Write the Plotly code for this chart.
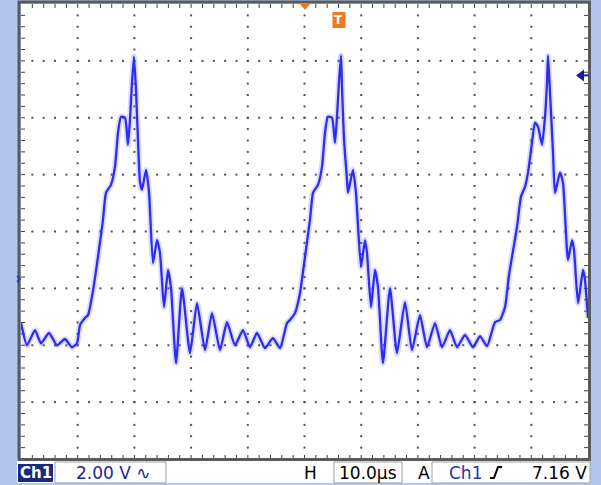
import plotly.graph_objects as go

# ---------------- data ----------------
t_us = [0.0, 1.06, 2.47, 3.53, 4.94, 6.35, 7.76, 8.99, 9.88,
        10.41, 11.29, 11.82, 12.70, 13.58, 14.46, 14.99, 15.87, 16.58, 17.11,
        17.64, 18.34, 18.87, 19.22, 19.58, 19.93, 20.28, 20.63, 20.99, 21.34,
        22.05, 22.57, 23.28, 23.99, 24.51, 25.22, 25.93, 26.46, 27.34, 28.40,
        29.81, 31.04, 32.45, 33.69, 35.10, 36.33, 37.74, 39.15, 40.39, 41.62,
        43.03, 44.44, 45.68,
        46.91, 47.44, 48.32, 49.21, 50.09, 50.97, 51.50, 52.38, 53.09, 53.62,
        54.14, 54.85, 55.38, 55.73, 56.08, 56.44, 56.61, 56.97, 57.50, 57.67,
        58.55, 59.08, 59.96, 60.67, 61.02, 61.73, 62.43, 62.96, 63.84, 65.08,
        66.31, 67.72, 68.96, 70.37, 71.60, 73.02, 74.25, 75.66, 76.90, 78.31,
        79.72, 80.95, 82.19,
        83.60, 84.48, 85.36, 86.07, 86.60, 87.48, 88.18, 88.89, 89.42, 90.12,
        90.65, 91.18, 91.89, 92.42, 92.77, 92.95, 93.30, 93.83, 94.18, 95.06,
        95.59, 96.47, 97.18, 97.53, 98.24, 99.12, 99.47, 100.0]
volts = [-1.55, -2.33, -1.80, -2.26, -1.90, -2.33, -2.11, -2.40, -2.26,
         -1.62, -1.37, -1.27, -0.42, 0.78, 2.08, 3.03, 3.31, 3.95, 5.15,
         5.71, 5.67, 4.72, 5.60, 6.91, 7.82, 6.66, 4.90, 3.42, 3.14,
         3.84, 3.07, 0.56, 1.37, 0.92, -0.99, 0.32, -0.32, -2.96, -0.32,
         -2.61, -0.85, -2.50, -1.20, -2.50, -1.52, -2.33, -1.80, -2.40, -1.90,
         -2.43, -2.08, -2.43,
         -1.55, -1.44, -1.20, -0.49, 0.78, 2.08, 3.03, 3.31, 3.95, 5.15,
         5.71, 5.67, 4.79, 5.71, 6.91, 7.86, 6.77, 4.90, 3.49, 3.03,
         3.84, 3.03, 0.42, 1.37, 0.92, -0.99, 0.32, -0.28, -2.96, -0.32,
         -2.61, -0.81, -2.50, -1.27, -2.40, -1.55, -2.40, -1.80, -2.40, -1.97,
         -2.40, -2.01, -2.36,
         -1.52, -1.44, -0.99, 0.14, 0.78, 1.83, 2.89, 3.24, 3.74, 4.79,
         5.50, 5.36, 4.72, 5.71, 6.91, 7.86, 6.55, 4.44, 3.03, 3.74,
         3.38, 0.67, 1.37, 1.02, -0.85, 0.32, -0.04, -1.37]

volts_per_div = 2.0
us_per_div = 10.0
trigger_level_v = 7.16
trigger_time_us = 56.08
ch_label = "Ch1"
scale_label = "2.00 V \u223f"
time_label = "10.0\u00b5s"
trig_label = "7.16 V"

# ---------------- screen geometry ----------------
W, H = 601, 485
L, R, T, B = 21, 588, 4, 459          # plot area in pixels
X0, X1 = 0.0, 10 * us_per_div
Y0 = -6.33
Y1 = Y0 + 8 * volts_per_div


def px(x):
    return (x - L) / (R - L)


def py(y):
    return (B - y) / (B - T)


fig = go.Figure()

# dotted graticule
gx, gy = [], []
for k in range(1, 10):
    x = X0 + k * us_per_div
    for j in range(1, 40):
        gx.append(x)
        gy.append(Y0 + j * volts_per_div / 5)
for k in range(1, 8):
    y = Y0 + k * volts_per_div
    for j in range(1, 50):
        gx.append(X0 + j * us_per_div / 5)
        gy.append(y)
fig.add_trace(go.Scatter(x=gx, y=gy, mode="markers", hoverinfo="skip",
                         marker=dict(size=2, color="#505050", symbol="square",
                                     line_width=0)))

# frame ticks
tx, ty = [], []
dx = 4 / (R - L) * (X1 - X0)
dy = 4 / (B - T) * (Y1 - Y0)
for j in range(1, 50):
    x = X0 + j * us_per_div / 5
    tx += [x, x, None, x, x, None]
    ty += [Y1, Y1 - dy, None, Y0, Y0 + dy, None]
for j in range(1, 40):
    y = Y0 + j * volts_per_div / 5
    tx += [X0, X0 + dx, None, X1, X1 - dx, None]
    ty += [y, y, None, y, y, None]
fig.add_trace(go.Scatter(x=tx, y=ty, mode="lines", hoverinfo="skip",
                         line=dict(color="#404040", width=1)))

# waveform: glow + core
fig.add_trace(go.Scatter(x=t_us, y=volts, mode="lines", hoverinfo="skip",
                         line=dict(color="rgba(90,90,255,0.22)", width=6,
                                   shape="spline", smoothing=0.5)))
fig.add_trace(go.Scatter(x=t_us, y=volts, mode="lines", hoverinfo="skip",
                         line=dict(color="rgb(45,45,235)", width=2.3,
                                   shape="spline", smoothing=0.5)))

shapes = []
# status bar background
shapes.append(dict(type="rect", xref="paper", yref="paper", layer="below",
                   x0=px(17), x1=px(590), y0=py(459), y1=py(483),
                   fillcolor="white", line_width=0))
# frame
shapes.append(dict(type="rect", xref="paper", yref="paper",
                   x0=px(19), x1=px(589.5), y0=py(459.5), y1=py(2),
                   line=dict(color="#5a5a5a", width=3), fillcolor="rgba(0,0,0,0)"))
# Ch1 label box
shapes.append(dict(type="rect", xref="paper", yref="paper",
                   x0=px(18), x1=px(53), y0=py(464), y1=py(482),
                   fillcolor="#1b2a80", line_width=0))
for a, b in [(55, 166), (334, 402), (432, 590)]:
    shapes.append(dict(type="rect", xref="paper", yref="paper",
                       x0=px(a), x1=px(b), y0=py(462), y1=py(483),
                       fillcolor="white", line=dict(color="#a0a0a0", width=1)))
# rising edge symbol
shapes.append(dict(type="path", xref="paper", yref="paper",
                   path=f"M {px(490)} {py(478)} L {px(494)} {py(478)} L {px(498)} {py(467)} L {px(502)} {py(467)}",
                   line=dict(color="black", width=2)))
# trigger position marker (orange triangle at top)
xt = L + (trigger_time_us - X0) / (X1 - X0) * (R - L)
shapes.append(dict(type="path", xref="paper", yref="paper",
                   path=f"M {px(299)} {py(3)} L {px(311)} {py(3)} L {px(305)} {py(10)} Z",
                   fillcolor="#f07820", line_width=0))
# T box
shapes.append(dict(type="rect", xref="paper", yref="paper",
                   x0=px(xt - 6.5), x1=px(xt + 6.5), y0=py(28), y1=py(12),
                   fillcolor="#f07820", line_width=0))
# trigger level arrow (right)
yl = B - (trigger_level_v - Y0) / (Y1 - Y0) * (B - T)
shapes.append(dict(type="path", xref="paper", yref="paper",
                   path=f"M {px(576)} {py(yl)} L {px(584)} {py(yl - 6)} L {px(584)} {py(yl + 6)} Z",
                   fillcolor="#1a1aa0", line_width=0))
shapes.append(dict(type="line", xref="paper", yref="paper",
                   x0=px(583), x1=px(589), y0=py(yl), y1=py(yl),
                   line=dict(color="#1a1aa0", width=2)))
# ground marker (left)
yg = B - (0 - Y0) / (Y1 - Y0) * (B - T)
shapes.append(dict(type="path", xref="paper", yref="paper",
                   path=f"M {px(17)} {py(yg - 3)} L {px(20)} {py(yg)} L {px(17)} {py(yg + 3)}",
                   line=dict(color="#2030c0", width=1.5)))

ann = []
fnt = "DejaVu Sans"
ymid = py(473)
ann.append(dict(x=px(35.5), y=ymid, xref="paper", yref="paper", text=f"<b>{ch_label}</b>",
                showarrow=False, xanchor="center", yanchor="middle",
                font=dict(family=fnt, size=15, color="white")))
ann.append(dict(x=px(74), y=ymid, xref="paper", yref="paper", text=scale_label,
                showarrow=False, xanchor="left", yanchor="middle",
                font=dict(family=fnt, size=17, color="#1a2a8a")))
ann.append(dict(x=px(302), y=ymid, xref="paper", yref="paper", text="H",
                showarrow=False, xanchor="left", yanchor="middle",
                font=dict(family=fnt, size=17, color="black")))
ann.append(dict(x=px(337), y=ymid, xref="paper", yref="paper", text=time_label,
                showarrow=False, xanchor="left", yanchor="middle",
                font=dict(family=fnt, size=17, color="black")))
ann.append(dict(x=px(416), y=ymid, xref="paper", yref="paper", text="A",
                showarrow=False, xanchor="left", yanchor="middle",
                font=dict(family=fnt, size=17, color="black")))
ann.append(dict(x=px(447), y=ymid, xref="paper", yref="paper", text=ch_label,
                showarrow=False, xanchor="left", yanchor="middle",
                font=dict(family=fnt, size=17, color="#1a3aa8")))
ann.append(dict(x=px(589), y=ymid, xref="paper", yref="paper", text=trig_label,
                showarrow=False, xanchor="right", yanchor="middle",
                font=dict(family=fnt, size=17, color="black")))
ann.append(dict(x=px(xt), y=py(20), xref="paper", yref="paper", text="<b>T</b>",
                showarrow=False, xanchor="center", yanchor="middle",
                font=dict(family=fnt, size=12, color="white")))

fig.update_layout(
    width=W, height=H,
    margin=dict(l=L, r=W - R, t=T, b=H - B),
    paper_bgcolor="#b3c6ec", plot_bgcolor="white",
    showlegend=False,
    xaxis=dict(range=[X0, X1], visible=False, fixedrange=True),
    yaxis=dict(range=[Y0, Y1], visible=False, fixedrange=True),
    shapes=shapes, annotations=ann,
)
fig.write_html("out.html", config={"displayModeBar": False},
               post_script="document.body.style.margin='0';document.body.style.overflow='hidden';")
